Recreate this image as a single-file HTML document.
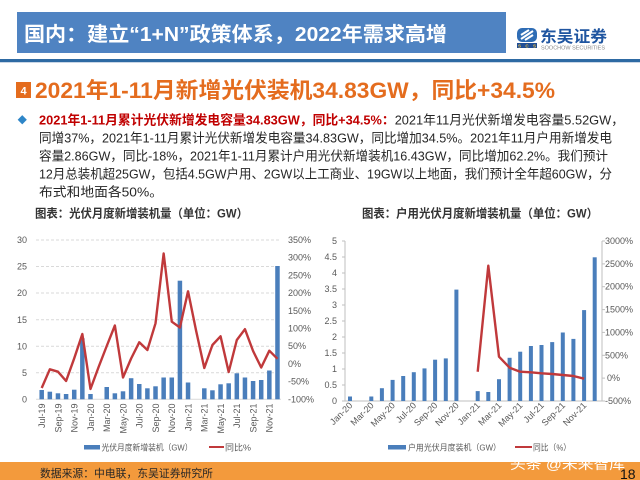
<!DOCTYPE html>
<html><head><meta charset="utf-8">
<style>
html,body{margin:0;padding:0;background:#fff;}
svg{display:block;}
text{font-family:"Liberation Sans","Noto Sans CJK SC",sans-serif;}
</style></head>
<body>
<svg width="640" height="480" viewBox="0 0 640 480" xmlns="http://www.w3.org/2000/svg">
<rect x="0" y="0" width="640" height="480" fill="#fff"/>
<!-- Header banner -->
<rect x="17" y="12" width="489" height="41" fill="#4f83c2"/>
<text x="24" y="41" font-size="20" font-weight="bold" fill="#fff" textLength="423" lengthAdjust="spacingAndGlyphs">国内：建立“1+N”政策体系，2022年需求高增</text>
<!-- Logo -->
<rect x="517" y="28" width="20" height="14" rx="5" fill="#2f6db5"/>
<path d="M521 39 L533 31 M521 35 L529 30 M525 40 L533 35" stroke="#fff" stroke-width="2"/>
<rect x="517" y="43" width="20" height="5" fill="#1f4e96"/>
<text x="518" y="47.3" font-size="4.5" font-weight="bold" fill="#f0c040" textLength="18">SCS</text>
<text x="540" y="42" font-size="16" font-weight="bold" fill="#1f55a0" textLength="67" lengthAdjust="spacingAndGlyphs">东吴证券</text>
<text x="541" y="49.5" font-size="5" fill="#8a8a8a" textLength="64" lengthAdjust="spacingAndGlyphs">SOOCHOW SECURITIES</text>
<!-- rule -->
<rect x="0" y="59" width="640" height="3" fill="#2e6aa3"/>
<rect x="0" y="62" width="640" height="1" fill="#c9d6e6"/>

<!-- Section title -->
<rect x="16" y="82" width="15" height="16" fill="#e46c1e"/>
<text x="23.5" y="94.5" font-size="11" font-weight="bold" fill="#fff" text-anchor="middle">4</text>
<text x="35" y="98" font-size="22" font-weight="bold" fill="#e46c1e" textLength="520" lengthAdjust="spacingAndGlyphs">2021年1-11月新增光伏装机34.83GW，同比+34.5%</text>

<!-- Bullet -->
<rect x="19" y="116.5" width="6.5" height="6.5" fill="#2e86c8" transform="rotate(45 22.25 119.75)"/>
<g font-size="13" fill="#262626">
<text x="39" y="124.5" textLength="585" lengthAdjust="spacingAndGlyphs"><tspan fill="#c00000" font-weight="bold">2021年1-11月累计光伏新增发电容量34.83GW，同比+34.5%：</tspan>2021年11月光伏新增发电容量5.52GW，</text>
<text x="39" y="142.5" textLength="573" lengthAdjust="spacingAndGlyphs">同增37%，2021年1-11月累计光伏新增发电容量34.83GW，同比增加34.5%。2021年11月户用新增发电</text>
<text x="39" y="160.5" textLength="569" lengthAdjust="spacingAndGlyphs">容量2.86GW，同比-18%，2021年1-11月累计户用光伏新增装机16.43GW，同比增加62.2%。我们预计</text>
<text x="39" y="178.5" textLength="573" lengthAdjust="spacingAndGlyphs">12月总装机超25GW，包括4.5GW户用、2GW以上工商业、19GW以上地面，我们预计全年超60GW，分</text>
<text x="39" y="196.5" textLength="124" lengthAdjust="spacingAndGlyphs">布式和地面各50%。</text>
</g>

<!-- Chart titles -->
<text x="35" y="217.5" font-size="12" font-weight="bold" fill="#333" textLength="213" lengthAdjust="spacingAndGlyphs">图表：光伏月度新增装机量（单位：GW）</text>
<text x="362" y="217.5" font-size="12" font-weight="bold" fill="#333" textLength="236" lengthAdjust="spacingAndGlyphs">图表：户用光伏月度新增装机量（单位：GW）</text>

<!-- LEFT CHART -->
<g stroke="#d9d9d9" stroke-width="1" stroke-dasharray="3,2">
<line x1="36" x2="281" y1="240" y2="240"/>
<line x1="36" x2="281" y1="266.5" y2="266.5"/>
<line x1="36" x2="281" y1="293" y2="293"/>
<line x1="36" x2="281" y1="319.8" y2="319.8"/>
<line x1="36" x2="281" y1="346.3" y2="346.3"/>
<line x1="36" x2="281" y1="372.8" y2="372.8"/>
</g>
<line x1="36" x2="281" y1="399.3" y2="399.3" stroke="#d9d9d9" stroke-width="1"/>
<g font-size="9" fill="#595959" text-anchor="end">
<text x="27" y="243">30</text>
<text x="27" y="269.5">25</text>
<text x="27" y="296">20</text>
<text x="27" y="322.8">15</text>
<text x="27" y="349.3">10</text>
<text x="27" y="375.8">5</text>
<text x="27" y="402.3">0</text>
</g>
<g font-size="9" fill="#595959">
<text x="288" y="243">350%</text>
<text x="288" y="260.7">300%</text>
<text x="288" y="278.4">250%</text>
<text x="288" y="296.1">200%</text>
<text x="288" y="313.8">150%</text>
<text x="288" y="331.5">100%</text>
<text x="288" y="349.2">50%</text>
<text x="288" y="366.9">0%</text>
<text x="288" y="384.6">-50%</text>
<text x="288" y="402.3">-100%</text>
</g>
<g fill="#4a7ebb">
<rect x="39.45" y="390" width="4.5" height="9.3"/>
<rect x="47.58" y="391.7" width="4.5" height="7.6"/>
<rect x="55.71" y="393.3" width="4.5" height="6"/>
<rect x="63.84" y="394" width="4.5" height="5.3"/>
<rect x="71.97" y="389.7" width="4.5" height="9.6"/>
<rect x="80.1" y="338.3" width="4.5" height="61"/>
<rect x="88.23" y="394" width="4.5" height="5.3"/>
<rect x="104.49" y="387" width="4.5" height="12.3"/>
<rect x="112.62" y="393.3" width="4.5" height="6"/>
<rect x="120.75" y="391.3" width="4.5" height="8"/>
<rect x="128.88" y="378.2" width="4.5" height="21.1"/>
<rect x="137.01" y="384" width="4.5" height="15.3"/>
<rect x="145.14" y="388.3" width="4.5" height="11"/>
<rect x="153.27" y="386.3" width="4.5" height="13"/>
<rect x="161.4" y="377.5" width="4.5" height="21.8"/>
<rect x="169.53" y="377.5" width="4.5" height="21.8"/>
<rect x="177.66" y="280.7" width="4.5" height="118.6"/>
<rect x="185.79" y="382.5" width="4.5" height="16.8"/>
<rect x="202.05" y="388.3" width="4.5" height="11"/>
<rect x="210.18" y="390.3" width="4.5" height="9"/>
<rect x="218.31" y="384.3" width="4.5" height="15"/>
<rect x="226.44" y="383.3" width="4.5" height="16"/>
<rect x="234.57" y="373.3" width="4.5" height="26"/>
<rect x="242.7" y="377.5" width="4.5" height="21.8"/>
<rect x="250.83" y="381" width="4.5" height="18.3"/>
<rect x="258.96" y="380" width="4.5" height="19.3"/>
<rect x="267.09" y="370.5" width="4.5" height="28.8"/>
<rect x="275.22" y="266" width="4.5" height="133.3"/>
</g>
<polyline fill="none" stroke="#c0393b" stroke-width="2.4" stroke-linejoin="round" points="41.7,388 49.83,369.3 57.96,371.7 66.09,381 74.22,358.3 82.35,334 90.48,389 98.61,367 106.74,346 114.87,325.5 123,377.5 131.13,358.5 139.26,342.3 147.39,350 155.52,323.3 163.65,253.5 171.78,321.7 179.91,327.5 188.04,291.3 196.17,331 204.3,368 212.43,345 220.56,336.3 228.69,372 236.82,340 244.95,329.2 253.08,351 261.21,367.5 269.34,350.7 277.47,358.8"/>
<g font-size="9" fill="#595959" text-anchor="end">
<text transform="translate(45,403.5) rotate(-90)">Jul-19</text>
<text transform="translate(61.26,403.5) rotate(-90)">Sep-19</text>
<text transform="translate(77.52,403.5) rotate(-90)">Nov-19</text>
<text transform="translate(93.78,403.5) rotate(-90)">Jan-20</text>
<text transform="translate(110.04,403.5) rotate(-90)">Mar-20</text>
<text transform="translate(126.3,403.5) rotate(-90)">May-20</text>
<text transform="translate(142.56,403.5) rotate(-90)">Jul-20</text>
<text transform="translate(158.82,403.5) rotate(-90)">Sep-20</text>
<text transform="translate(175.08,403.5) rotate(-90)">Nov-20</text>
<text transform="translate(191.34,403.5) rotate(-90)">Jan-21</text>
<text transform="translate(207.6,403.5) rotate(-90)">Mar-21</text>
<text transform="translate(223.86,403.5) rotate(-90)">May-21</text>
<text transform="translate(240.12,403.5) rotate(-90)">Jul-21</text>
<text transform="translate(256.38,403.5) rotate(-90)">Sep-21</text>
<text transform="translate(272.64,403.5) rotate(-90)">Nov-21</text>
</g>
<!-- left legend -->
<rect x="84" y="445" width="16" height="4.5" fill="#4a7ebb"/>
<text x="101.5" y="450.5" font-size="8.5" fill="#595959" textLength="91" lengthAdjust="spacingAndGlyphs">光伏月度新增装机（GW）</text>
<line x1="209" x2="224" y1="447" y2="447" stroke="#c0393b" stroke-width="2"/>
<text x="225" y="450.5" font-size="8.5" fill="#595959" textLength="26" lengthAdjust="spacingAndGlyphs">同比%</text>

<!-- RIGHT CHART -->
<g stroke="#bfbfbf" stroke-width="1">
<line x1="345" x2="345" y1="241" y2="401"/>
<line x1="602" x2="602" y1="241" y2="401"/>
<line x1="345" x2="602" y1="401" y2="401"/>
<line x1="342" x2="345" y1="241" y2="241"/>
<line x1="342" x2="345" y1="257" y2="257"/>
<line x1="342" x2="345" y1="273" y2="273"/>
<line x1="342" x2="345" y1="289" y2="289"/>
<line x1="342" x2="345" y1="305" y2="305"/>
<line x1="342" x2="345" y1="321" y2="321"/>
<line x1="342" x2="345" y1="337" y2="337"/>
<line x1="342" x2="345" y1="353" y2="353"/>
<line x1="342" x2="345" y1="369" y2="369"/>
<line x1="342" x2="345" y1="385" y2="385"/>
<line x1="342" x2="345" y1="401" y2="401"/>
<line x1="602" x2="605" y1="241" y2="241"/>
<line x1="602" x2="605" y1="263.9" y2="263.9"/>
<line x1="602" x2="605" y1="286.7" y2="286.7"/>
<line x1="602" x2="605" y1="309.6" y2="309.6"/>
<line x1="602" x2="605" y1="332.4" y2="332.4"/>
<line x1="602" x2="605" y1="355.3" y2="355.3"/>
<line x1="602" x2="605" y1="378.1" y2="378.1"/>
<line x1="602" x2="605" y1="401" y2="401"/>
</g>
<g font-size="9" fill="#595959" text-anchor="end">
<text x="337" y="244">5</text>
<text x="337" y="260">4.5</text>
<text x="337" y="276">4</text>
<text x="337" y="292">3.5</text>
<text x="337" y="308">3</text>
<text x="337" y="324">2.5</text>
<text x="337" y="340">2</text>
<text x="337" y="356">1.5</text>
<text x="337" y="372">1</text>
<text x="337" y="388">0.5</text>
<text x="337" y="404">0</text>
</g>
<g font-size="9" fill="#595959">
<text x="605" y="244">3000%</text>
<text x="605" y="266.9">2500%</text>
<text x="605" y="289.7">2000%</text>
<text x="605" y="312.6">1500%</text>
<text x="605" y="335.4">1000%</text>
<text x="605" y="358.3">500%</text>
<text x="607" y="381.1">0%</text>
<text x="605" y="404">-500%</text>
</g>
<g fill="#4a7ebb">
<rect x="348" y="396.5" width="4" height="4.5"/>
<rect x="369.3" y="396.5" width="4" height="4.5"/>
<rect x="379.9" y="388.2" width="4" height="12.8"/>
<rect x="390.6" y="379.9" width="4" height="21.1"/>
<rect x="401.2" y="376" width="4" height="25"/>
<rect x="411.8" y="372.2" width="4" height="28.8"/>
<rect x="422.5" y="368.4" width="4" height="32.6"/>
<rect x="433.1" y="359.7" width="4" height="41.3"/>
<rect x="443.8" y="358.4" width="4" height="42.6"/>
<rect x="454.4" y="289.6" width="4" height="111.4"/>
<rect x="475.7" y="391.1" width="4" height="9.9"/>
<rect x="486.3" y="392" width="4" height="9"/>
<rect x="497" y="379.2" width="4" height="21.8"/>
<rect x="507.6" y="357.8" width="4" height="43.2"/>
<rect x="518.2" y="351.7" width="4" height="49.3"/>
<rect x="528.9" y="346" width="4" height="55"/>
<rect x="539.5" y="345" width="4" height="56"/>
<rect x="550.2" y="342.1" width="4" height="58.9"/>
<rect x="560.8" y="332.5" width="4" height="68.5"/>
<rect x="571.4" y="338.9" width="4" height="62.1"/>
<rect x="582.1" y="310.1" width="4" height="90.9"/>
<rect x="592.7" y="257.3" width="4" height="143.7"/>
</g>
<polyline fill="none" stroke="#c0393b" stroke-width="2.4" stroke-linejoin="round" points="477.7,371.7 488.3,265.7 499,356.7 509.6,367.7 520.2,371.7 530.9,372.3 541.5,373.3 552.2,374 562.8,375 573.4,376 584.1,378.7"/>
<g font-size="9" fill="#595959" text-anchor="end">
<text transform="translate(353,406) rotate(-45)">Jan-20</text>
<text transform="translate(374.3,406) rotate(-45)">Mar-20</text>
<text transform="translate(395.6,406) rotate(-45)">May-20</text>
<text transform="translate(416.8,406) rotate(-45)">Jul-20</text>
<text transform="translate(438.1,406) rotate(-45)">Sep-20</text>
<text transform="translate(459.4,406) rotate(-45)">Nov-20</text>
<text transform="translate(480.7,406) rotate(-45)">Jan-21</text>
<text transform="translate(502,406) rotate(-45)">Mar-21</text>
<text transform="translate(523.2,406) rotate(-45)">May-21</text>
<text transform="translate(544.5,406) rotate(-45)">Jul-21</text>
<text transform="translate(565.8,406) rotate(-45)">Sep-21</text>
<text transform="translate(587.1,406) rotate(-45)">Nov-21</text>
</g>
<!-- right legend -->
<rect x="388" y="445" width="18" height="4.5" fill="#4a7ebb"/>
<text x="408" y="450.5" font-size="8.5" fill="#595959" textLength="93" lengthAdjust="spacingAndGlyphs">户用光伏月度装机（GW）</text>
<line x1="515" x2="532" y1="447" y2="447" stroke="#c0393b" stroke-width="2"/>
<text x="533" y="450.5" font-size="8.5" fill="#595959" textLength="38" lengthAdjust="spacingAndGlyphs">同比（%）</text>

<!-- Footer -->
<rect x="0" y="462" width="640" height="18" fill="#f39a3c"/>
<text x="40" y="477" font-size="11" fill="#262626" textLength="173" lengthAdjust="spacingAndGlyphs">数据来源：中电联，东吴证券研究所</text>
<text x="510" y="469" font-size="14" fill="#fff" textLength="115" lengthAdjust="spacingAndGlyphs">头条 @未来智库</text>
<text x="620" y="479" font-size="14" fill="#111" font-family="'Liberation Serif',serif">18</text>
</svg>
</body></html>
